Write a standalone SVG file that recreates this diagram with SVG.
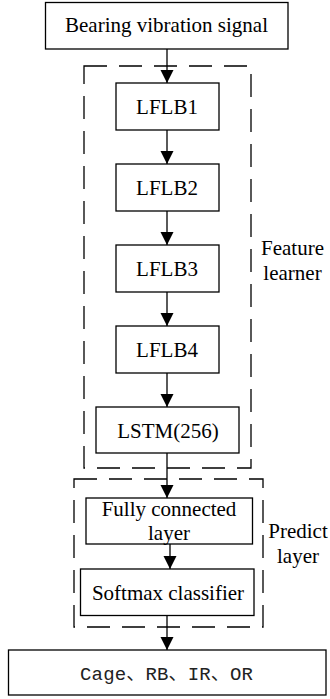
<svg xmlns="http://www.w3.org/2000/svg" width="330" height="699" viewBox="0 0 330 699">
<style>
.box{fill:#fff;stroke:#000;stroke-width:1.3}
.dash{fill:none;stroke:#000;stroke-width:1.3;stroke-dasharray:23 12}
.t{font-family:'Liberation Serif','DejaVu Serif',serif;font-size:21px;fill:#000;text-anchor:middle}
.m{font-family:'Liberation Mono','Noto Sans CJK SC',monospace;font-size:19px;fill:#222;text-anchor:middle}
.c{stroke:#000;stroke-width:1.3;fill:none}
</style>
<defs>
<marker id="ah" markerUnits="userSpaceOnUse" markerWidth="14" markerHeight="14" refX="13" refY="6.5" orient="auto">
<path d="M0,0 L13,6.5 L0,13 Z" fill="#000"/>
</marker>
</defs>
<rect x="0" y="0" width="330" height="699" fill="#fff"/>
<g id="feature-learner">
<rect class="dash" x="84" y="66" width="167" height="402"/>
<text class="t" x="292.5" y="255">Feature</text>
<text class="t" x="292.5" y="280">learner</text>
</g>
<g id="predict-layer">
<rect class="dash" x="74" y="479" width="189" height="148"/>
<text class="t" x="298" y="538">Predict</text>
<text class="t" x="298" y="563">layer</text>
</g>
<g id="connectors">
<line class="c" x1="167" y1="49" x2="167" y2="83" marker-end="url(#ah)"/>
<line class="c" x1="167" y1="130" x2="167" y2="164" marker-end="url(#ah)"/>
<line class="c" x1="167" y1="211" x2="167" y2="245" marker-end="url(#ah)"/>
<line class="c" x1="167" y1="292" x2="167" y2="326" marker-end="url(#ah)"/>
<line class="c" x1="167" y1="373" x2="167" y2="407" marker-end="url(#ah)"/>
<line class="c" x1="167" y1="453" x2="167" y2="498" marker-end="url(#ah)"/>
<line class="c" x1="170" y1="544" x2="170" y2="569" marker-end="url(#ah)"/>
<line class="c" x1="167" y1="616" x2="167" y2="650" marker-end="url(#ah)"/>
</g>
<g id="input">
<rect class="box" x="45.5" y="2.5" width="242.5" height="46.5"/>
<text class="t" x="166.5" y="32">Bearing vibration signal</text>
</g>
<g id="lflb1">
<rect class="box" x="116" y="83" width="103" height="47"/>
<text class="t" x="167" y="114">LFLB1</text>
</g>
<g id="lflb2">
<rect class="box" x="116" y="164" width="103" height="47"/>
<text class="t" x="167" y="195">LFLB2</text>
</g>
<g id="lflb3">
<rect class="box" x="116" y="245" width="103" height="47"/>
<text class="t" x="167" y="276">LFLB3</text>
</g>
<g id="lflb4">
<rect class="box" x="116" y="326" width="103" height="47"/>
<text class="t" x="167" y="357">LFLB4</text>
</g>
<g id="lstm">
<rect class="box" x="96" y="407" width="143" height="46"/>
<text class="t" x="168" y="437.5">LSTM(256)</text>
</g>
<g id="fc">
<rect class="box" x="86" y="498" width="166.5" height="46"/>
<text class="t" x="169" y="516">Fully connected</text>
<text class="t" x="169" y="540">layer</text>
</g>
<g id="softmax">
<rect class="box" x="80.5" y="569" width="173.5" height="46.5"/>
<text class="t" x="168" y="600">Softmax classifier</text>
</g>
<g id="output">
<rect class="box" x="8.5" y="650" width="317.5" height="45"/>
<text class="m" x="166.5" y="680" textLength="173" lengthAdjust="spacing">Cage、RB、IR、OR</text>
</g>
</svg>
